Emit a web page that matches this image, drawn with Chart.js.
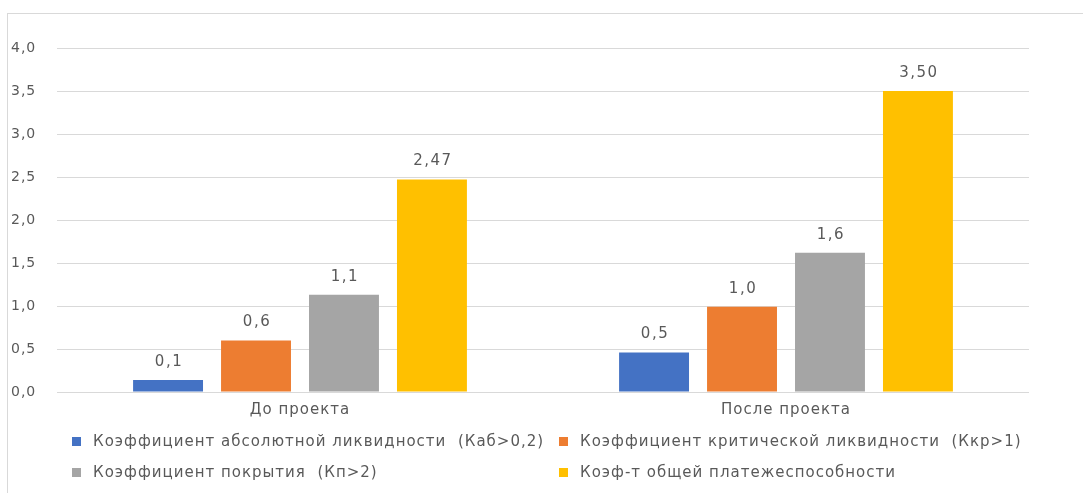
<!DOCTYPE html>
<html>
<head>
<meta charset="utf-8">
<script src="https://cdn.jsdelivr.net/npm/chart.js@4.4.1/dist/chart.umd.min.js"></script>
<style>
  html, body { margin: 0; padding: 0; background: #fff; }
  .wrap { position: relative; width: 1083px; height: 493px; overflow: hidden; }
  .frame { position: absolute; left: 7px; top: 13px; right: -2px; bottom: -2px; border-left: 1px solid #d9d9d9; border-top: 1px solid #d9d9d9; }
  canvas { position: absolute; left: 0; top: 0; }
  .legend { position: absolute; left: 72px; top: 431px; display: grid; grid-template-columns: 487px 500px; row-gap: 11px;
    font-family: "DejaVu Sans", sans-serif; font-size: 15px; letter-spacing: 1px; color: #595959; }
  .legend-item { display: flex; align-items: center; height: 20px; white-space: pre; }
  .legend-box { width: 9px; height: 9px; margin-right: 12px; flex: none; }
</style>
</head>
<body>
<div class="wrap">
  <div class="frame"></div>
  <canvas id="chart" width="1083" height="493"></canvas>
  <div class="legend" id="legend"></div>
</div>
<script>
"use strict";

const categories = ["До проекта", "После проекта"];
const seriesNames = [
  "Коэффициент абсолютной ликвидности  (Каб>0,2)",
  "Коэффициент критической ликвидности  (Ккр>1)",
  "Коэффициент покрытия  (Кп>2)",
  "Коэф-т общей платежеспособности",
];
const absLiquidity = [0.14, 0.46];
const critLiquidity = [0.60, 0.99];
const coverage = [1.13, 1.62];
const solvency = [2.47, 3.50];
const valueLabels = [["0,1", "0,5"], ["0,6", "1,0"], ["1,1", "1,6"], ["2,47", "3,50"]];
const yTicks = [0, 0.5, 1, 1.5, 2, 2.5, 3, 3.5, 4];
const seriesColors = ["#4472C4", "#ED7D31", "#A5A5A5", "#FFC000"];

const TEXT = "#595959";
const FONT = "'DejaVu Sans', sans-serif";

const datasets = [absLiquidity, critLiquidity, coverage, solvency].map((data, i) => ({
  label: seriesNames[i],
  data,
  backgroundColor: seriesColors[i],
  categoryPercentage: 0.724,
  barPercentage: 0.795,
}));

// the source chart has wide, loosely spaced text
const spacingPlugin = {
  id: "spacing",
  beforeDraw(chart) { chart.ctx.letterSpacing = "1px"; },
};

const valueLabelPlugin = {
  id: "valueLabels",
  afterDatasetsDraw(chart) {
    const ctx = chart.ctx;
    ctx.save();
    ctx.letterSpacing = "1.5px";
    ctx.font = "15px " + FONT;
    ctx.fillStyle = TEXT;
    ctx.textAlign = "center";
    ctx.textBaseline = "middle";
    chart.data.datasets.forEach((ds, di) => {
      chart.getDatasetMeta(di).data.forEach((bar, i) => {
        ctx.fillText(valueLabels[di][i], bar.x + 1, bar.y - 18);
      });
    });
    ctx.restore();
  },
};

new Chart(document.getElementById("chart"), {
  type: "bar",
  data: { labels: categories, datasets },
  options: {
    responsive: false,
    animation: false,
    layout: { padding: { top: 48, left: 11, right: 54, bottom: 61 } },
    plugins: { legend: { display: false }, tooltip: { enabled: false } },
    scales: {
      x: {
        grid: { display: false, drawTicks: false },
        border: { display: false },
        ticks: { color: TEXT, font: { family: FONT, size: 15 }, padding: 9 },
        afterFit: (scale) => { scale.height = 40; },
      },
      y: {
        min: 0,
        max: 4,
        afterBuildTicks: (scale) => { scale.ticks = yTicks.map((v) => ({ value: v })); },
        grid: { color: "#d9d9d9", lineWidth: 1, drawTicks: false },
        border: { display: false },
        ticks: {
          color: TEXT,
          font: { family: FONT, size: 14 },
          crossAlign: "far",
          callback: (v) => v.toFixed(1).replace(".", ","),
        },
        afterFit: (scale) => { scale.width = 46; },
      },
    },
  },
  plugins: [spacingPlugin, valueLabelPlugin],
});

const legend = document.getElementById("legend");
legend.innerHTML = seriesNames.map((name, i) => `
  <div class="legend-item"><span class="legend-box" style="background:${seriesColors[i]}"></span>${name.replace(/</g, "&lt;").replace(/>/g, "&gt;")}</div>`).join("");
</script>
</body>
</html>
